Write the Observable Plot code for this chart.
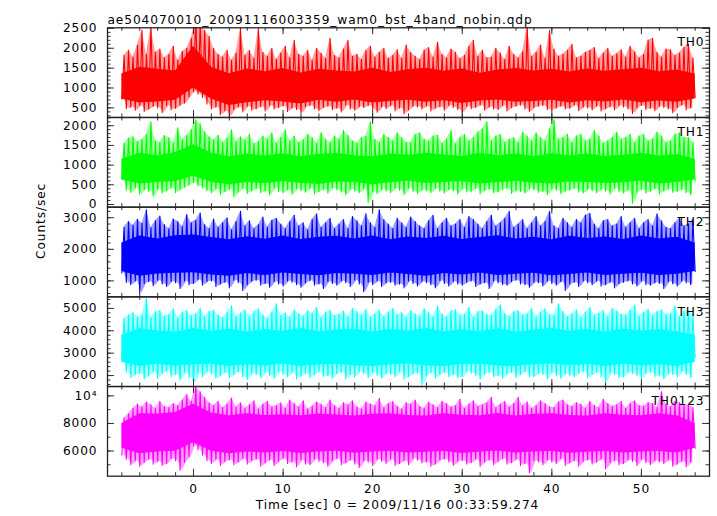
<!DOCTYPE html>
<html><head><meta charset="utf-8">
<script src="https://cdn.jsdelivr.net/npm/d3@7"></script>
<script src="https://cdn.jsdelivr.net/npm/@observablehq/plot@0.6"></script>
<style>
body{margin:0;background:#fff}
#chart{position:relative;width:717px;height:516px}
#chart svg{position:absolute;left:0;top:0}
#chart text{letter-spacing:0.9px}
</style>
</head><body><div id="chart"></div>
<script>
const title = "ae504070010_20091116003359_wam0_bst_4band_nobin.qdp";
const xLabel = "Time [sec] 0 = 2009/11/16 00:33:59.274";
const yLabel = "Counts/sec";
const bands = ["TH0", "TH1", "TH2", "TH3", "TH0123"];
const colors = ["#ff0000", "#00ff00", "#0000ff", "#00ffff", "#ff00ff"];
const xDomain = [-9.6, 57.6];
const xTicks = [0, 10, 20, 30, 40, 50];
const yDomains = [[258, 2515], [-68, 2210], [495, 3334], [1511, 5516], [4171, 10680]];
const yTicks = [[500, 1000, 1500, 2000, 2500], [0, 500, 1000, 1500, 2000], [1000, 2000, 3000], [2000, 3000, 4000, 5000], [6000, 8000, 10000]];
const yMinorStep = [100, 100, 200, 200, 1000];
const tStart = -8; // first sample time (s); spike tips every 0.25 s, core band every 2 s

// TH0
const th0Hi = [1820,1950,1780,2080,2450,1850,2550,1900,1980,1760,1850,2050,1700,1920,2000,2250,
2750,2600,2450,2300,2000,1850,1780,1950,1700,1880,2500,1820,1950,1750,2500,1900,
1800,2000,1720,1880,2050,1760,2200,1850,1800,1950,1700,2000,1880,1750,2250,1820,
1760,1980,2200,1800,1850,1720,1950,2050,1780,1900,2000,1750,1820,1960,1750,2080,
1900,1800,1720,1950,2020,1780,2150,1850,1760,1980,1900,1740,1820,2050,2200,1800,
1950,1760,1780,2000,1880,1720,2050,1850,1760,1920,2550,1800,1900,2080,1750,2450,
1980,1800,1850,1950,2100,1760,1800,1900,1950,2020,1740,1880,2000,1800,1860,1960,
1780,2050,1920,1760,1850,2200,2250,1900,1780,1980,1960,1820,1880,2020,2100,1760];
const th0Lo = [720,480,520,440,560,410,470,540,500,380,560,450,490,570,620,780,
920,850,760,600,470,520,330,430,290,460,520,400,540,440,480,530,
420,560,470,510,550,410,500,460,370,530,560,470,430,510,540,450,
490,400,570,470,440,530,510,560,460,390,530,480,560,430,500,350,
450,540,520,470,550,420,490,530,440,560,510,460,390,540,480,510,
570,440,520,470,460,560,420,510,540,570,470,410,510,540,560,460,
440,500,540,470,490,570,430,520,500,450,550,420,480,530,450,560,
520,470,360,500,560,460,490,430,540,510,470,380,510,570,450,500,760];
const th0CoreLo = [720,620,650,690,1000,720,560,630,680,650,600,690,640,700,620,660,690,640,680,610,670,700,640,660,690,620,680,650,700,630,670,640,720];
const th0CoreHi = [1350,1520,1470,1430,2050,1520,1360,1480,1410,1490,1380,1470,1430,1400,1500,1390,1460,1500,1420,1480,1370,1450,1490,1430,1470,1400,1480,1420,1460,1500,1410,1450,1350];

// TH1
const th1Hi = [1550,1680,1720,1600,1650,1780,2100,1620,1580,1750,1700,1560,1950,1650,1760,1900,
2150,2050,1850,1720,1640,1760,1580,1680,1900,1600,1720,1640,1780,1550,1600,1740,
1660,1820,1560,1700,1900,1620,1740,1580,1640,1780,1700,1560,1820,1660,1580,1740,
1660,1880,1760,1620,1560,1700,1740,2100,1650,1580,1780,1700,1620,1820,1700,1580,
1580,1780,1820,1660,1620,1740,1760,1560,1660,1880,1540,1700,1780,1620,1700,1840,
1920,2100,1620,1740,1780,1580,1660,1700,1580,1840,1740,1620,1820,1700,1620,1920,
2150,1660,1700,1780,1580,1740,1780,1620,1660,1880,1740,1560,1620,1700,1840,1660,
1700,1780,1580,1740,1780,1620,1660,1840,1740,1580,1620,1780,1820,1700,1700,1580];
const th1Lo = [640,360,310,420,260,380,330,210,400,290,350,420,300,380,440,500,
560,470,420,350,300,400,260,330,380,200,320,410,280,350,400,300,
350,250,420,330,300,380,260,400,350,310,410,270,330,380,290,420,
370,320,250,390,340,300,400,50,330,280,380,350,300,410,360,250,
420,330,280,370,350,300,410,340,290,380,350,270,400,320,330,410,
270,360,380,300,320,390,410,280,350,330,290,400,370,310,330,250,
400,360,280,340,360,410,320,290,390,350,300,380,340,270,410,330,
290,370,30,320,380,290,340,400,270,350,390,310,330,380,300,250,600];
const th1CoreLo = [620,520,560,580,720,560,500,560,530,580,540,510,570,560,500,550,590,530,560,580,520,550,590,540,520,570,560,530,550,590,520,560,620];
const th1CoreHi = [1150,1300,1240,1320,1520,1310,1210,1280,1230,1290,1220,1270,1300,1240,1210,1280,1250,1300,1260,1220,1300,1240,1280,1220,1290,1240,1280,1220,1250,1300,1230,1270,1150];

// TH2
const th2Hi = [2700,2880,2760,2950,2820,3250,2680,2900,3050,2780,2650,2960,2880,2720,3100,2840,
2920,3150,2780,2660,2960,2700,2840,3000,2620,2880,3200,2740,2900,2660,2780,3020,
2700,2920,2980,2800,2660,2880,3080,2740,2840,2620,2940,3120,2700,2840,2980,2660,
2800,2940,2660,3040,2900,2740,3120,2840,2700,3250,2940,2800,2660,2980,2840,2700,
3020,2880,2740,2660,2900,3080,2660,2840,2980,2740,2800,2940,2700,3040,2940,2800,
2660,2880,3080,2740,2840,2980,3200,2700,2800,2940,2660,2840,3040,2740,2880,3200,
2740,2660,2980,2840,2700,2940,2840,3080,3140,2800,2660,2900,2940,2740,2800,3040,
2700,2840,2980,2660,2840,2940,2740,3120,2900,2700,2660,2840,2980,2740,2800,2940];
const th2Lo = [1250,950,880,1000,620,920,980,850,1020,900,820,980,940,760,1000,880,
920,1040,860,980,1000,820,900,960,780,1020,940,700,880,990,1020,860,
920,800,980,900,840,1000,960,880,800,940,1010,860,900,760,980,920,
860,1000,940,820,1020,900,660,960,880,1000,820,940,960,860,900,780,
1000,920,840,980,940,880,780,1010,920,840,980,900,860,960,1000,820,
900,940,760,1000,940,880,860,980,1020,900,880,800,960,940,840,1000,
920,860,980,700,900,960,820,1000,940,880,1000,840,880,960,780,920,
960,1000,900,840,1000,880,860,940,920,760,980,900,840,1000,940,880,1300];
const th2CoreLo = [1300,1150,1220,1240,1260,1190,1150,1230,1170,1250,1200,1160,1230,1210,1170,1250,1200,1150,1230,1190,1250,1170,1210,1240,1160,1200,1250,1170,1210,1240,1170,1210,1300];
const th2CoreHi = [2200,2420,2330,2430,2450,2370,2300,2400,2320,2420,2310,2380,2410,2330,2420,2300,2390,2340,2410,2310,2370,2430,2330,2380,2300,2410,2340,2390,2310,2420,2330,2380,2200];

// TH3
const th3Hi = [4550,4700,4800,4620,4700,5450,4600,4850,4900,4650,4720,4980,4580,4820,4900,4680,
4760,5000,4640,4860,4920,4700,4580,4820,5100,4660,4780,4940,4620,4860,4980,4700,
4560,4840,5200,4680,4800,4600,4940,4760,4660,4900,4780,5050,4600,4820,4920,4680,
4740,4880,4620,5000,4860,4700,4960,4600,4760,4920,4640,4840,5000,4700,4820,4600,
4900,4760,4660,4980,4800,4640,5100,4760,4620,4880,4940,4700,4740,5050,4600,4860,
4880,4720,4680,4960,5150,4780,4640,4860,4900,4700,4760,5000,4620,4840,4980,4720,
4700,5200,4860,4640,4760,4940,4600,4820,5050,4700,4780,4900,4640,5000,4880,4740,
4700,4920,5150,4660,4820,4960,4680,4860,4940,4720,4760,5100,4620,4880,4900,4700];
const th3Lo = [2700,2150,1900,2050,2100,1850,2000,2180,1880,2100,2200,1950,2050,1800,2150,1900,
1650,2100,1950,2180,2080,1880,2000,2150,1900,2050,2180,1950,1820,2100,2050,1900,
2150,2000,1880,2180,2050,1950,2150,1850,1980,2100,1900,2050,2180,1950,2000,1880,
2100,2150,1850,2050,1950,2180,2080,1900,2150,2000,1880,2100,2050,1950,2180,1850,
1950,2080,2100,1600,2000,2150,1880,2050,2150,1950,2050,1900,1950,2180,2100,2000,
1850,2080,2150,1950,2000,1880,2080,2150,1900,2050,2180,1950,1950,2100,2050,1850,
2150,2000,1880,2080,2000,1950,2100,2180,1900,2050,2150,1950,1700,2100,2050,1900,
1950,2150,2080,2000,1880,2100,2150,1950,2000,1850,2100,2050,1950,2180,2050,1900,2800];
const th3CoreLo = [2600,2400,2500,2420,2480,2500,2410,2480,2430,2520,2410,2470,2500,2430,2400,2480,2520,2430,2410,2490,2500,2430,2400,2480,2520,2440,2490,2410,2500,2430,2480,2410,2600];
const th3CoreHi = [3800,4100,3990,3950,4100,3980,4080,3940,4060,3980,4100,3960,4040,4080,3950,4060,3980,4100,3960,4050,3970,4090,3940,4030,4100,3980,4060,3950,4080,3990,4050,3950,3800];

// TH0123
const th4Hi = [8400,8700,9100,9400,9200,9550,9350,9100,9600,9250,9150,9450,9300,9700,10100,9600,
10700,10300,9900,9500,9300,9600,9150,9400,9850,9200,9500,9100,9350,9650,9050,9400,
9600,9200,9300,9500,9100,9700,9450,9200,9650,9050,9250,9550,9400,9150,9700,9300,
9100,9500,9350,9650,9200,9050,9550,9400,9300,9800,9150,9450,9600,9250,9050,9500,
9400,9700,9250,9100,9550,9350,9150,9600,9450,9200,9300,9750,9100,9400,9650,9250,
9350,9500,9900,9150,9400,9600,9200,9450,9900,9300,9550,9100,9300,9650,9450,9200,
9150,9550,9700,9350,9250,9500,9400,9100,9600,9300,9150,9750,9450,9250,9350,9600,
9100,9450,9650,9300,9250,9500,9450,9150,10300,9400,9200,9600,9500,9300,9350,9150];
const th4Lo = [5700,5400,5000,5300,4900,5200,5400,5050,5250,4950,5100,5450,5300,4600,5200,5600,
6400,6100,5700,5300,5100,5400,4950,5250,5350,5000,5200,5450,5050,5300,5400,4900,
5150,5350,4950,5250,5450,5100,5200,4850,5350,5050,5000,5400,5250,5150,4900,5300,
5450,5000,5150,5350,5050,4800,5300,5200,4950,5400,5250,5100,5400,4950,5100,5300,
5000,5450,5350,5150,5200,4900,5050,5350,5400,5200,4950,5250,5300,5050,5150,5400,
4900,5200,5350,5000,5250,5450,5050,5150,5400,4950,5100,4400,5300,5200,5000,5350,
5200,5100,5450,4950,5150,5300,4900,5250,5350,5050,5200,5400,4700,5150,5300,5000,
5100,5350,5250,4950,5400,5150,5000,5300,5200,5100,5350,4900,5050,5250,4850,5200,6200];
const th4CoreLo = [6200,5800,5920,5980,6600,5980,5800,5920,5850,5960,5820,5930,5980,5840,5920,5970,5850,5910,5960,5820,5920,5980,5850,5930,5960,5840,5910,5970,5850,5920,5960,5850,6200];
const th4CoreHi = [8000,8700,8680,8800,9400,8750,8550,8700,8580,8640,8560,8680,8620,8540,8660,8700,8580,8540,8700,8600,8560,8720,8540,8660,8700,8580,8540,8700,8600,8560,8700,8560,8000];

const series = [
  [th0Lo, th0Hi, th0CoreLo, th0CoreHi],
  [th1Lo, th1Hi, th1CoreLo, th1CoreHi],
  [th2Lo, th2Hi, th2CoreLo, th2CoreHi],
  [th3Lo, th3Hi, th3CoreLo, th3CoreHi],
  [th4Lo, th4Hi, th4CoreLo, th4CoreHi]
];

const W = 717, H = 516, ML = 107, MR = 8, TOP = 27.3, PH = 89.68;
const FW = W - ML - MR;
const xMinor = d3.range(-8, 57, 2);
const axisColor = "#333";
const root = document.getElementById("chart");

series.forEach(([lo, hi, cLo, cHi], i) => {
  const top = TOP + i * PH;
  const bottom = top + PH;
  const zig = [];
  lo.forEach((v, k) => {
    zig.push({t: tStart + k * 0.5, v});
    if (k < hi.length) zig.push({t: tStart + k * 0.5 + 0.25, v: hi[k]});
  });
  const env = hi.map((h, k) => ({t: tStart + k * 0.5 + 0.25, lo: lo[k], hi: h}));
  const core = cLo.map((v, k) => ({t: tStart + 2 * k, lo: v, hi: cHi[k]}));
  const [y0, y1] = yDomains[i];
  const step = yMinorStep[i];
  const yMinor = d3.range(Math.ceil(y0 / step) * step, y1, step);
  const color = colors[i];
  const marks = [
    Plot.areaY(env, {x: "t", y1: "lo", y2: "hi", fill: color, fillOpacity: 0.38, clip: true}),
    Plot.areaY(core, {x: "t", y1: "lo", y2: "hi", fill: color, clip: true}),
    Plot.line(zig, {x: "t", y: "v", stroke: color, strokeWidth: 1.1, clip: true}),
    // x ticks top & bottom (inward)
    Plot.tickX(xMinor, {x: d => d, insetBottom: PH - 3.5, stroke: axisColor}),
    Plot.tickX(xMinor, {x: d => d, insetTop: PH - 3.5, stroke: axisColor}),
    Plot.tickX(xTicks, {x: d => d, insetBottom: PH - 7, stroke: axisColor}),
    Plot.tickX(xTicks, {x: d => d, insetTop: PH - 7, stroke: axisColor}),
    // y ticks left & right (inward)
    Plot.tickY(yMinor, {y: d => d, insetRight: FW - 3.5, stroke: axisColor}),
    Plot.tickY(yMinor, {y: d => d, insetLeft: FW - 3.5, stroke: axisColor}),
    Plot.tickY(yTicks[i], {y: d => d, insetRight: FW - 7, stroke: axisColor}),
    Plot.tickY(yTicks[i], {y: d => d, insetLeft: FW - 7, stroke: axisColor}),
    Plot.frame({stroke: "#222", strokeWidth: 1.3}),
    Plot.axisY({anchor: "left", ticks: yTicks[i], tickSize: 0, tickPadding: 10, label: null,
      tickFormat: d => d === 10000 ? "10\u2074" : String(d)}),
    Plot.text([bands[i]], {frameAnchor: "top-right", textAnchor: "end", dx: -5, dy: 10, fill: "black"})
  ];
  if (i === 0) {
    marks.push(Plot.text([title], {frameAnchor: "top-left", textAnchor: "start", dy: -12, fill: "black"}));
  }
  if (i === 2) {
    marks.push(Plot.text([yLabel], {frameAnchor: "left", dx: -66, dy: 7, rotate: -90, fill: "black"}));
  }
  if (i === 4) {
    marks.push(Plot.axisX({anchor: "bottom", ticks: xTicks, tickSize: 0, tickPadding: 8, label: null, tickFormat: d => String(d)}));
    marks.push(Plot.text([xLabel], {frameAnchor: "bottom", dx: -11, dy: 32.3, fill: "black"}));
  }
  const svg = Plot.plot({
    width: W, height: H,
    marginLeft: ML, marginRight: MR, marginTop: top, marginBottom: H - bottom,
    x: {domain: xDomain, axis: null},
    y: {domain: yDomains[i], axis: null},
    style: {background: "transparent", overflow: "visible", fontFamily: "DejaVu Sans", fontSize: "12.2px", color: "black"},
    marks
  });
  root.appendChild(svg);
});
</script>
</body></html>
